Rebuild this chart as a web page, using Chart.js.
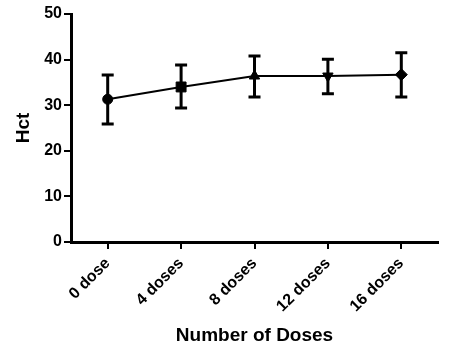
<!DOCTYPE html>
<html>
<head>
<meta charset="utf-8">
<script src="https://cdn.jsdelivr.net/npm/chart.js@4/dist/chart.umd.min.js"></script>
<style>
  html, body { margin: 0; padding: 0; background: #fff; }
  #wrap { width: 458px; height: 349px; }
</style>
</head>
<body>
<div id="wrap"><canvas id="graph"></canvas></div>
<script>
"use strict";

const doseLabels = ["0 dose", "4 doses", "8 doses", "12 doses", "16 doses"];
const hctMean = [31.3, 34.0, 36.4, 36.4, 36.7];
const hctUpper = [36.6, 38.8, 40.8, 40.1, 41.5];
const hctLower = [25.9, 29.4, 31.8, 32.5, 31.8];
const markerStyles = ["circle", "rect", "triangle", "triangle", "rectRot"];
const markerRotations = [0, 0, 0, 180, 0];

const FONT = "'Liberation Sans', Arial, sans-serif";

// error bars with caps, drawn from the upper/lower arrays
const errorBars = {
  id: "errorBars",
  beforeDatasetsDraw(chart) {
    const { ctx, scales } = chart;
    const x = scales.x;
    const y = scales.y;
    ctx.save();
    ctx.strokeStyle = "#000";
    ctx.lineWidth = 3;
    ctx.lineCap = "butt";
    hctMean.forEach((v, i) => {
      const px = x.getPixelForValue(i);
      const top = y.getPixelForValue(hctUpper[i]);
      const bot = y.getPixelForValue(hctLower[i]);
      ctx.beginPath();
      ctx.moveTo(px, top);
      ctx.lineTo(px, bot);
      ctx.moveTo(px - 6, top);
      ctx.lineTo(px + 6, top);
      ctx.moveTo(px - 6, bot);
      ctx.lineTo(px + 6, bot);
      ctx.stroke();
    });
    ctx.restore();
  },
};

document.addEventListener("DOMContentLoaded", () => {
  const ctx = document.getElementById("graph").getContext("2d");
  new Chart(ctx, {
    type: "line",
    data: {
      labels: doseLabels,
      datasets: [
        {
          label: "Hct",
          data: hctMean,
          borderColor: "#000",
          backgroundColor: "#000",
          borderWidth: 2,
          tension: 0,
          pointStyle: markerStyles,
          pointRotation: markerRotations,
          pointRadius: [5, 7, 6, 6, 6],
          pointBorderWidth: 1,
        },
      ],
    },
    options: {
      responsive: true,
      maintainAspectRatio: false,
      animation: false,
      devicePixelRatio: 1,
      layout: { padding: { top: 14, right: 20, bottom: 0, left: 0 } },
      plugins: {
        legend: { display: false },
        tooltip: { enabled: false },
      },
      scales: {
        x: {
          offset: true,
          grid: {
            display: true,
            drawOnChartArea: false,
            offset: false,
            color: "#000",
            lineWidth: 2,
            tickLength: 7,
          },
          border: { display: true, color: "#000", width: 3 },
          ticks: {
            color: "#000",
            font: { family: FONT, size: 16, weight: "bold" },
            minRotation: 45,
            maxRotation: 45,
            padding: 5,
          },
          title: {
            display: true,
            text: "Number of Doses",
            color: "#000",
            font: { family: FONT, size: 19, weight: "bold" },
            padding: { top: 0, bottom: 2 },
          },
          afterFit(scale) {
            scale.height = 107;
          },
        },
        y: {
          min: 0,
          max: 50,
          ticks: {
            stepSize: 10,
            color: "#000",
            font: { family: FONT, size: 16, weight: "bold" },
            padding: 2,
          },
          grid: {
            display: true,
            drawOnChartArea: false,
            color: "#000",
            lineWidth: 2,
            tickLength: 7,
          },
          border: { display: true, color: "#000", width: 3 },
          title: {
            display: true,
            text: "Hct",
            color: "#000",
            font: { family: FONT, size: 19, weight: "bold" },
            padding: { top: 12, bottom: 0 },
          },
          afterFit(scale) {
            scale.width = 71;
          },
        },
      },
    },
    plugins: [errorBars],
  });
});
</script>
</body>
</html>
